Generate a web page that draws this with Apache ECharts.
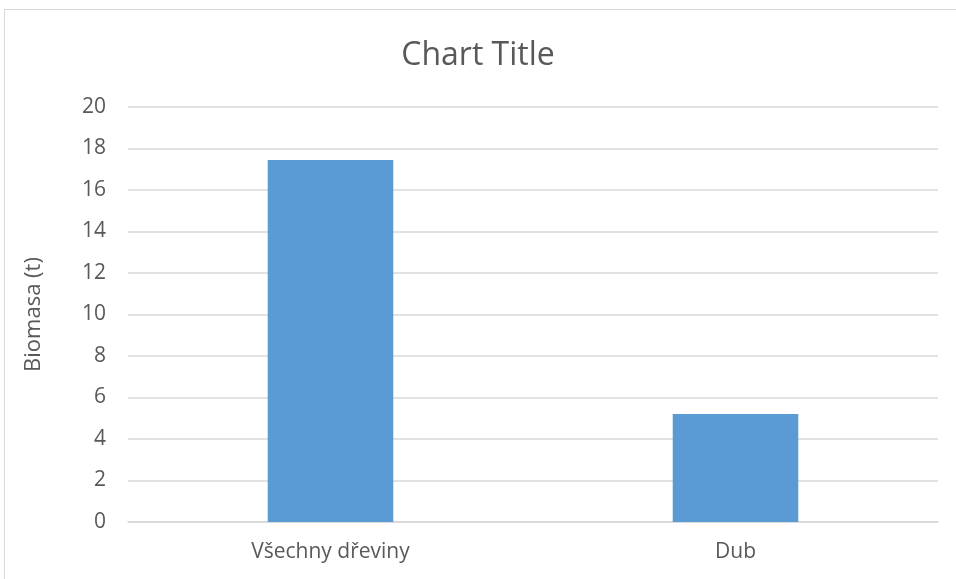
<!DOCTYPE html>
<html>
<head>
<meta charset="utf-8">
<script src="https://cdn.jsdelivr.net/npm/echarts@6/dist/echarts.min.js"></script>
<style>
  html, body { margin: 0; padding: 0; background: #fff; overflow: hidden; }
  #frame {
    position: absolute; left: 4px; top: 9px; width: 970px; height: 590px;
    border: 1px solid #d9d9d9; box-sizing: border-box;
  }
  #chart { position: absolute; left: 0; top: 0; width: 956px; height: 579px; }
</style>
</head>
<body>
<div id="frame"></div>
<div id="chart"></div>
<script>
// data
const categories = ['Všechny dřeviny', 'Dub'];
const biomasa = [17.45, 5.2];
const yTicks = { min: 0, max: 20, step: 2 };

const chart = echarts.init(document.getElementById('chart'));
const txt = '#595959';
const font = 'Open Sans, Noto Sans, sans-serif';

chart.setOption({
  animation: false,
  title: {
    text: 'Chart Title',
    left: 'center',
    top: 35,
    textStyle: { color: txt, fontSize: 32, fontWeight: 'normal', fontFamily: font }
  },
  grid: { left: 128, right: 18, top: 107, bottom: 57 },
  xAxis: {
    type: 'category',
    data: categories,
    axisTick: { show: false },
    axisLine: { lineStyle: { color: '#d9d9d9', width: 1.5 } },
    axisLabel: { color: txt, fontSize: 21, fontFamily: font, margin: 20 }
  },
  yAxis: {
    type: 'value',
    min: yTicks.min,
    max: yTicks.max,
    interval: yTicks.step,
    name: 'Biomasa (t)',
    nameLocation: 'middle',
    nameGap: 83,
    nameTextStyle: { color: txt, fontSize: 22, fontFamily: font },
    axisLine: { show: false },
    axisTick: { show: false },
    axisLabel: { color: txt, fontSize: 21, fontFamily: font, margin: 22 },
    splitLine: { lineStyle: { color: '#d9d9d9', width: 1.5 } }
  },
  series: [{
    type: 'bar',
    data: biomasa,
    barWidth: '31%',
    itemStyle: { color: '#5b9bd5' }
  }]
});
</script>
</body>
</html>
